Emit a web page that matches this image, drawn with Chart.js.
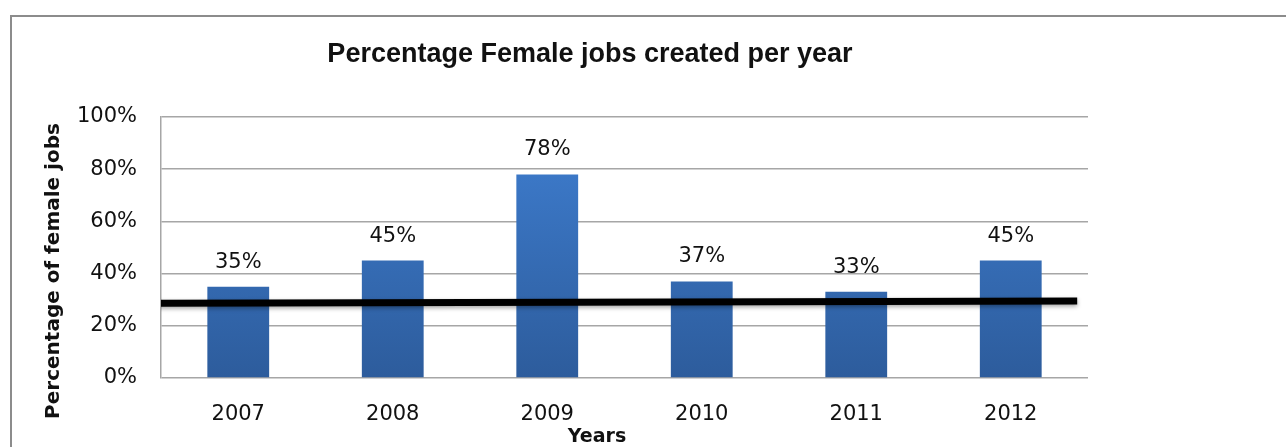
<!DOCTYPE html>
<html>
<head>
<meta charset="utf-8">
<script src="https://cdn.jsdelivr.net/npm/chart.js@4.4.1/dist/chart.umd.min.js"></script>
<style>
  body { margin: 0; background: #fff; }
  #wrap { width: 1286px; height: 447px; position: relative; }
</style>
</head>
<body>
<div id="wrap"><canvas id="femaleJobs"></canvas></div>
<script>
// values
var years = ['2007', '2008', '2009', '2010', '2011', '2012'];
var femalePct = [35, 45, 78, 37, 33, 45];
var yTicks = [0, 20, 40, 60, 80, 100];
// the thick black reference line (x in category units, y in %)
var refLineX = [-0.52, 5.43];
var refLineY = [28.6, 29.5];

var tickFont = { family: 'DejaVu Sans', size: 21 };

var extras = {
  id: 'extras',
  beforeDraw: function (chart) {
    var ctx = chart.ctx;
    ctx.save();
    ctx.strokeStyle = '#8c8c8c';
    ctx.lineWidth = 2;
    ctx.strokeRect(11, 16, 1400, 600);
    ctx.restore();
  },
  beforeDatasetDraw: function (chart, args) {
    if (args.meta.type === 'line') {
      chart.ctx.save();
      chart.ctx.shadowColor = 'rgba(0,0,0,0.35)';
      chart.ctx.shadowBlur = 4;
      chart.ctx.shadowOffsetY = 2;
    }
  },
  afterDatasetDraw: function (chart, args) {
    if (args.meta.type === 'line') chart.ctx.restore();
  },
  afterDatasetsDraw: function (chart) {
    var ctx = chart.ctx;
    var meta = chart.getDatasetMeta(1);
    ctx.save();
    ctx.fillStyle = '#111';
    ctx.font = '21px "DejaVu Sans"';
    ctx.textAlign = 'center';
    ctx.textBaseline = 'alphabetic';
    meta.data.forEach(function (bar, i) {
      ctx.fillText(femalePct[i] + '%', bar.x, bar.y - 19);
    });

    // titles
    ctx.font = 'bold 27px "Liberation Sans"';
    ctx.fillText('Percentage Female jobs created per year', 590, 62);
    ctx.font = 'bold 19px "DejaVu Sans"';
    ctx.textBaseline = 'middle';
    ctx.fillText('Years', 597, 437);
    ctx.translate(54, 271);
    ctx.rotate(-Math.PI / 2);
    ctx.font = 'bold 20px "DejaVu Sans"';
    ctx.fillText('Percentage of female jobs', 0, 0);
    ctx.restore();
  }
};

var ctx = document.getElementById('femaleJobs').getContext('2d');
new Chart(ctx, {
  type: 'bar',
  data: {
    labels: years,
    datasets: [{
      type: 'line',
      order: 0,
      xAxisID: 'xLine',
      data: refLineX.map(function (x, i) { return { x: x, y: refLineY[i] }; }),
      borderColor: '#000',
      borderWidth: 7,
      pointRadius: 0,
      fill: false
    }, {
      order: 1,
      data: femalePct,
      grouped: false,
      backgroundColor: function (c) {
        var area = c.chart.chartArea;
        if (!area) return '#3a76c4';
        var g = c.chart.ctx.createLinearGradient(0, area.top, 0, area.bottom);
        g.addColorStop(0, '#3f7fd2');
        g.addColorStop(1, '#2d5c9c');
        return g;
      },
      borderWidth: 0,
      barPercentage: 0.4,
      categoryPercentage: 1
    }]
  },
  options: {
    responsive: true,
    maintainAspectRatio: false,
    animation: false,
    layout: { padding: { left: 0, right: 198, top: 117, bottom: 0 } },
    plugins: {
      legend: { display: false },
      tooltip: { enabled: false },
      title: { display: false }
    },
    scales: {
      x: {
        grid: { display: false, drawTicks: false },
        border: { display: false },
        ticks: { font: tickFont, color: '#111', padding: 24 },
        afterFit: function (s) { s.height = 69; }
      },
      xLine: {
        type: 'linear',
        display: false,
        offset: false,
        min: -0.5,
        max: 5.5
      },
      y: {
        min: 0,
        max: 100,
        afterBuildTicks: function (s) {
          s.ticks = yTicks.map(function (v) { return { value: v }; });
        },
        grid: { color: '#a6a6a6', lineWidth: 1.5, drawTicks: false },
        border: { color: '#a6a6a6', width: 1.5 },
        ticks: {
          font: tickFont,
          color: '#111',
          padding: 24,
          callback: function (v) { return v + '%'; }
        },
        afterFit: function (s) { s.width = 161; }
      }
    }
  },
  plugins: [extras]
});
</script>
</body>
</html>
